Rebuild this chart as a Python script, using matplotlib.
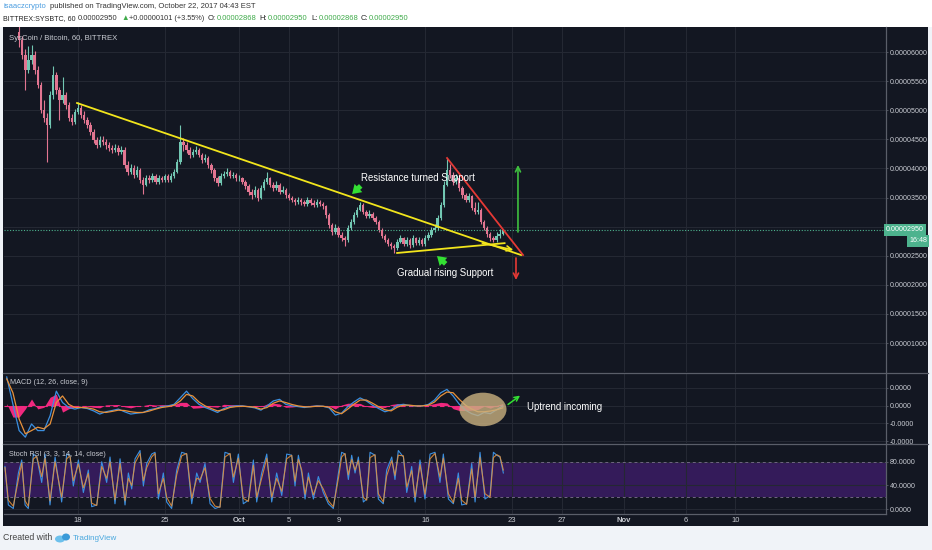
import numpy as np
import matplotlib
matplotlib.use('Agg')
import matplotlib.pyplot as plt
from matplotlib.patches import Rectangle, Ellipse
from matplotlib.lines import Line2D

W, H = 932, 550

# time axis is days since 2017-09-01 00:00, prices are in satoshi (1e-8 BTC)
# 6 hour candles, first one opens Sep 13 06:00
candle_start = 12.25
candle_step = 0.25
first_open = 6350
closes = [6200, 5950, 5690, 5860, 5950, 5690, 5430, 5000, 4870, 4750,
          5260, 5600, 5350, 5175, 5260, 5090, 4870, 4800, 4970, 5040,
          4920, 4830, 4750, 4630, 4490, 4400, 4490, 4450, 4400, 4350,
          4320, 4350, 4280, 4320, 4060, 3940, 4010, 3890, 3970, 3800,
          3720, 3830, 3800, 3870, 3770, 3830, 3800, 3870, 3800, 3870,
          3940, 4110, 4450, 4400, 4320, 4230, 4280, 4320, 4230, 4150,
          4180, 4060, 3970, 3830, 3750, 3870, 3900, 3940, 3870, 3890,
          3830, 3830, 3770, 3700, 3600, 3540, 3630, 3490, 3660, 3770,
          3830, 3720, 3660, 3720, 3600, 3630, 3540, 3490, 3460, 3420,
          3460, 3420, 3390, 3460, 3410, 3370, 3420, 3390, 3350, 3200,
          3030, 2910, 2980, 2860, 2800, 2770, 2980, 3080, 3200, 3290,
          3370, 3250, 3180, 3220, 3150, 3080, 2940, 2840, 2770, 2700,
          2670, 2630, 2740, 2800, 2700, 2770, 2680, 2800, 2720, 2770,
          2700, 2800, 2860, 2940, 2980, 3150, 3370, 3720, 3970, 3890,
          3770, 3830, 3660, 3540, 3460, 3520, 3320, 3250, 3290, 3080,
          2980, 2870, 2800, 2770, 2840, 2870, 2950]
highs = [6600, 6280, 6050, 6100, 6120, 6010, 5760, 5480, 5180, 4950,
         5330, 5760, 5650, 5400, 5570, 5310, 5140, 4930, 5020, 5140,
         5090, 4980, 4880, 4790, 4680, 4540, 4560, 4560, 4500, 4460,
         4400, 4420, 4400, 4380, 4360, 4120, 4080, 4060, 4040, 4010,
         3850, 3880, 3880, 3920, 3900, 3880, 3870, 3910, 3900, 3920,
         3990, 4170, 4750, 4520, 4450, 4360, 4340, 4380, 4350, 4270,
         4250, 4220, 4100, 4000, 3870, 3920, 3960, 4010, 3970, 3940,
         3920, 3880, 3860, 3800, 3730, 3640, 3690, 3660, 3710, 3810,
         3940, 3860, 3760, 3780, 3750, 3690, 3660, 3580, 3530, 3500,
         3510, 3490, 3460, 3510, 3490, 3450, 3470, 3460, 3420, 3380,
         3230, 3070, 3040, 3010, 2900, 2840, 3030, 3130, 3250, 3340,
         3420, 3400, 3280, 3280, 3250, 3180, 3110, 2970, 2870, 2800,
         2740, 2700, 2790, 2860, 2830, 2830, 2800, 2850, 2830, 2830,
         2800, 2850, 2910, 2990, 3040, 3200, 3430, 3780, 4180, 4080,
         3930, 3900, 3860, 3700, 3580, 3580, 3550, 3420, 3430, 3320,
         3110, 3010, 2900, 2840, 2900, 2960, 2960]
lows = [6080, 5880, 5350, 5640, 5800, 5620, 5380, 4950, 4800, 4110,
        4700, 5200, 5280, 4830, 5120, 5020, 4820, 4740, 4760, 4930,
        4870, 4780, 4700, 4580, 4440, 4350, 4360, 4400, 4340, 4300,
        4270, 4280, 4230, 4240, 4010, 3880, 3900, 3840, 3850, 3750,
        3560, 3690, 3750, 3760, 3730, 3740, 3760, 3770, 3760, 3770,
        3840, 3920, 4080, 4300, 4260, 4180, 4190, 4240, 4190, 4100,
        4110, 4010, 3920, 3780, 3700, 3720, 3840, 3870, 3830, 3840,
        3790, 3790, 3730, 3650, 3550, 3480, 3510, 3440, 3470, 3630,
        3740, 3680, 3620, 3630, 3560, 3570, 3500, 3450, 3420, 3380,
        3390, 3380, 3350, 3360, 3370, 3330, 3340, 3350, 3310, 3150,
        2980, 2860, 2880, 2820, 2750, 2670, 2740, 2950, 3050, 3170,
        3260, 3210, 3140, 3150, 3110, 3040, 2900, 2800, 2730, 2660,
        2620, 2550, 2600, 2710, 2660, 2670, 2640, 2650, 2680, 2690,
        2660, 2670, 2770, 2830, 2900, 2950, 3120, 3340, 3690, 3840,
        3720, 3730, 3620, 3500, 3420, 3430, 3280, 3210, 3220, 3040,
        2940, 2830, 2760, 2730, 2740, 2810, 2860]
last_price = 2950

# MACD (12, 26, 9), every 12 hours from Sep 12 06:00, in units of 1e-6 BTC
macd_start = 11.25
macd_step = 0.5
macd_line = [1.61, 0.07, -1.41, -1.78, -1.04, -1.41, -1.41, -0.57, 0.81, 0.17,
             -0.11, -0.20, -0.11, -0.17, -0.30, -0.48, -0.35, -0.28, -0.20, -0.35,
             -0.48, -0.43, -0.39, -0.24, -0.17, -0.06, -0.02, 0.07, 0.44, 0.81,
             0.39, 0.07, -0.11, -0.24, -0.39, -0.17, -0.06, -0.02, -0.02, -0.07,
             -0.13, -0.26, -0.02, 0.26, 0.35, 0.07, -0.02, -0.06, -0.11, -0.06,
             -0.02, -0.04, -0.13, -0.54, -0.43, -0.07, 0.20, 0.43, 0.26, 0.02,
             -0.17, -0.35, -0.24, 0.02, 0.07, 0.00, -0.02, -0.02, 0.06, 0.31,
             0.72, 0.91, 0.54, 0.07, -0.26, -0.46, -0.57, -0.39, -0.46, -0.24,
             -0.02]
signal_line = [1.50, 0.72, -0.76, -1.59, -1.41, -1.22, -1.31, -1.04, 0.17, 0.54,
               0.07, -0.11, -0.11, -0.13, -0.20, -0.35, -0.39, -0.33, -0.26, -0.28,
               -0.35, -0.39, -0.39, -0.31, -0.20, -0.11, -0.06, 0.02, 0.26, 0.63,
               0.54, 0.20, -0.02, -0.17, -0.30, -0.24, -0.11, -0.06, -0.04, -0.06,
               -0.09, -0.20, -0.11, 0.13, 0.26, 0.17, 0.06, -0.02, -0.07, -0.07,
               -0.04, -0.04, -0.09, -0.35, -0.46, -0.20, 0.07, 0.31, 0.31, 0.13,
               -0.07, -0.24, -0.30, -0.09, 0.02, 0.02, -0.02, -0.02, 0.02, 0.20,
               0.54, 0.76, 0.72, 0.35, 0.02, -0.20, -0.35, -0.35, -0.31, -0.24,
               -0.13]

# Stoch RSI turning points (day, %K, %D)
stoch_days = [11.11, 11.38, 11.78, 12.19, 12.46, 12.73, 12.99, 13.40, 13.67, 14.07,
              14.34, 14.74, 15.15, 15.68, 16.09, 16.35, 16.62, 17.03, 17.43, 17.83,
              18.10, 18.51, 18.91, 19.31, 19.58, 19.98, 20.39, 20.79, 21.06, 21.33,
              21.60, 22.00, 22.27, 22.54, 22.94, 23.21, 23.48, 23.88, 24.15, 24.55,
              24.96, 25.36, 25.76, 26.17, 26.57, 26.84, 27.24, 27.65, 28.05, 28.45,
              28.85, 29.26, 29.53, 29.93, 30.33, 30.74, 31.14, 31.41, 31.81, 32.22,
              32.62, 33.02, 33.43, 33.83, 34.23, 34.50, 34.77, 35.04, 35.31, 35.58,
              35.98, 36.38, 36.78, 37.19, 37.59, 38.00, 38.26, 38.53, 38.80, 39.07,
              39.34, 39.61, 40.01, 40.28, 40.55, 40.95, 41.22, 41.62, 41.89, 42.30,
              42.56, 42.83, 43.24, 43.51, 43.91, 44.18, 44.58, 44.98, 45.39, 45.79,
              46.19, 46.46, 46.87, 47.27, 47.67, 47.94, 48.34, 48.75, 49.02, 49.42,
              49.82, 50.23, 50.50, 50.77, 51.03, 51.30]
stoch_k = [72, 7, 1, 61, 83, 7, 1, 93, 88, 45,
           93, 7, 88, 12, 93, 91, 39, 83, 28, 66,
           4, 7, 80, 45, 88, 9, 85, 7, 61, 34,
           85, 99, 39, 77, 93, 96, 17, 61, 12, 1,
           66, 96, 93, 9, 61, 45, 77, 9, 1, 4,
           96, 93, 45, 93, 9, 15, 83, 12, 61, 93,
           12, 61, 23, 93, 91, 39, 91, 61, 17, 61,
           17, 55, 28, 9, 1, 61, 96, 93, 50, 91,
           61, 88, 12, 17, 96, 91, 17, 9, 66, 88,
           50, 99, 88, 28, 72, 12, 83, 17, 93, 96,
           45, 93, 17, 9, 61, 7, 9, 77, 12, 96,
           17, 23, 96, 91, 88, 61]
stoch_d = [70, 15, 5, 50, 78, 14, 5, 85, 89, 55,
           86, 14, 80, 20, 85, 90, 48, 76, 36, 60,
           10, 6, 72, 52, 80, 16, 77, 14, 52, 40,
           78, 94, 48, 70, 88, 94, 26, 52, 20, 5,
           58, 90, 94, 18, 52, 50, 70, 18, 5, 3,
           88, 94, 54, 86, 18, 13, 74, 20, 52, 86,
           20, 52, 30, 85, 91, 47, 84, 66, 25, 54,
           24, 48, 34, 14, 4, 52, 88, 94, 58, 84,
           66, 82, 20, 15, 87, 92, 26, 12, 56, 82,
           57, 91, 90, 37, 65, 20, 75, 25, 85, 94,
           54, 86, 26, 11, 52, 15, 8, 68, 20, 87,
           26, 20, 87, 92, 89, 66]

# date ticks
tick_days = [17, 24, 30, 34, 38, 45, 52, 56, 61, 66, 70]
tick_labels = ['18', '25', 'Oct', '5', '9', '16', '23', '27', 'Nov', '6', '10']
price_ticks = list(range(1000, 6001, 500))

# drawings on the chart, (day, price)
resistance = [(16.92, 5124), (52.73, 2512)]
support = [(42.73, 2547), (51.40, 2716)]
support_arrow = [(49.60, 2716), (52.10, 2600)]
red_line = [(46.76, 4179), (52.89, 2512)]
up_arrow = [(52.48, 2908), (52.48, 4059)]
down_arrow = [(52.32, 2461), (52.32, 2083)]

# ---------------------------------------------------------------
plt.rcParams['font.family'] = ['Liberation Sans', 'DejaVu Sans']

BG = '#131722'
GRID = '#242833'
SEP = '#5a5e69'
TXT = '#c8cbd2'
UP = '#72c7b3'
DOWN = '#e27591'
AXIS_FS = 5.1


def fx(x):
    return x / W


def fy(y):
    return 1 - y / H


fig = plt.figure(figsize=(W / 100, H / 100), dpi=100)
fig.set_facecolor('#f0f3f8')
fig.add_artist(Rectangle((0, fy(27)), 1, 27 / H, transform=fig.transFigure,
                         fc='white', ec='none', zorder=-3))
fig.add_artist(Rectangle((fx(3), fy(526)), (928 - 3) / W, (526 - 27) / H,
                         transform=fig.transFigure, fc=BG, ec='none', zorder=-2))

x_lo, x_hi = 11.03, 82.16
ax_p = fig.add_axes([fx(4), fy(372), 882 / W, 345 / H])
ax_m = fig.add_axes([fx(4), fy(443), 882 / W, 70 / H])
ax_s = fig.add_axes([fx(4), fy(514), 882 / W, 70 / H])

for ax in (ax_p, ax_m, ax_s):
    ax.set_facecolor(BG)
    ax.set_xlim(x_lo, x_hi)
    for side in ('left', 'top', 'bottom'):
        ax.spines[side].set_visible(False)
    ax.spines['right'].set_color(SEP)
    ax.spines['right'].set_linewidth(0.9)
    ax.yaxis.tick_right()
    ax.tick_params(axis='y', direction='out', length=1.5, width=0.6, color=SEP,
                   labelsize=AXIS_FS, labelcolor=TXT, pad=1.2)
    ax.set_xticks(tick_days)
    ax.grid(True, color=GRID, lw=0.8)
    ax.set_axisbelow(True)

for ax in (ax_p, ax_m):
    ax.tick_params(axis='x', length=0, labelbottom=False)

# ---- price pane
ax_p.set_ylim(502, 6430)
ax_p.set_yticks(price_ticks)
ax_p.set_yticklabels(['' if v == 3000 else f'{v * 1e-8:.8f}' for v in price_ticks])

c = np.array(closes, dtype=float)
o = np.array([first_open] + closes[:-1], dtype=float)
t = candle_start + candle_step * np.arange(len(c))
col = np.where(c >= o, UP, DOWN)
ax_p.vlines(t, lows, highs, colors=col, lw=0.8, zorder=2)
ax_p.bar(t, np.maximum(np.abs(c - o), 8), bottom=np.minimum(o, c), width=0.19,
         color=col, lw=0, zorder=3)

ax_p.axhline(last_price, color='#4db38e', ls=(0, (1, 1.5)), lw=0.8, zorder=2)

(x0, y0), (x1, y1) = resistance
ax_p.plot([x0, x1], [y0, y1], color='#f2e51c', lw=1.3, zorder=4)
(x0, y0), (x1, y1) = support
ax_p.plot([x0, x1], [y0, y1], color='#f2e51c', lw=1.3, zorder=4)
ax_p.annotate('', xy=support_arrow[1], xytext=support_arrow[0],
              arrowprops=dict(arrowstyle='->', color='#f2e51c', lw=1.2,
                              mutation_scale=9, shrinkA=0, shrinkB=0), zorder=4)
(x0, y0), (x1, y1) = red_line
ax_p.plot([x0, x1], [y0, y1], color='#e53935', lw=1.3, zorder=4)
ax_p.annotate('', xy=up_arrow[1], xytext=up_arrow[0],
              arrowprops=dict(arrowstyle='->', color='#3fbf3f', lw=1.2,
                              mutation_scale=9, shrinkA=0, shrinkB=0), zorder=4)
ax_p.annotate('', xy=down_arrow[1], xytext=down_arrow[0],
              arrowprops=dict(arrowstyle='->', color='#e53935', lw=1.2,
                              mutation_scale=9, shrinkA=0, shrinkB=0), zorder=4)

green_style = 'simple,head_length=0.7,head_width=0.9,tail_width=0.4'
ax_p.annotate('', xy=(39.10, 3560), xytext=(39.80, 3700),
              arrowprops=dict(arrowstyle=green_style, color='#33e033', lw=0,
                              mutation_scale=9, shrinkA=0, shrinkB=0), zorder=5)
ax_p.annotate('', xy=(45.95, 2495), xytext=(46.65, 2360),
              arrowprops=dict(arrowstyle=green_style, color='#33e033', lw=0,
                              mutation_scale=9, shrinkA=0, shrinkB=0), zorder=5)
ax_p.text(39.82, 3835, 'Resistance turned Support', color='white', fontsize=6.9,
          va='center', ha='left', zorder=6)
ax_p.text(42.73, 2203, 'Gradual rising Support', color='white', fontsize=6.9,
          va='center', ha='left', zorder=6)

ytr = ax_p.get_yaxis_transform()
ax_p.text(1.0, last_price, '0.00002950', transform=ytr, ha='left', va='center',
          fontsize=AXIS_FS, color='white', clip_on=False, zorder=10,
          bbox=dict(boxstyle='square,pad=0.35', fc='#4db38e', ec='none'))
ax_p.annotate('16:48', xy=(1.0, last_price), xycoords=ytr, xytext=(32, -11),
              textcoords='offset pixels', ha='center', va='center', fontsize=AXIS_FS,
              color='white', annotation_clip=False, zorder=10,
              bbox=dict(boxstyle='square,pad=0.35', fc='#4db38e', ec='none'))

# ---- MACD pane
ax_m.set_ylim(-2.11, 1.833)
macd_ticks = [1, 0, -1, -2]
ax_m.set_yticks(macd_ticks)
ax_m.set_yticklabels([f'{v * 1e-6:.4f}' for v in macd_ticks])
tm = macd_start + macd_step * np.arange(len(macd_line))
hist = np.array(macd_line) - np.array(signal_line)
ax_m.fill_between(tm, hist, 0, color='#f0287f', lw=0, zorder=2)
ax_m.axhline(0, xmin=0, xmax=(tm[-1] - x_lo) / (x_hi - x_lo), color='#f0287f',
             lw=0.8, ls=(0, (4, 3)), zorder=2)
ax_m.plot(tm, macd_line, color='#3b8fe0', lw=0.9, zorder=3)
ax_m.plot(tm, signal_line, color='#e8913a', lw=0.9, zorder=3)
ax_m.add_patch(Ellipse((49.66, -0.22), 3.79, 1.89, fc='#c9b07f', ec='none',
                       alpha=0.8, zorder=5))
ax_m.annotate('', xy=(52.65, 0.56), xytext=(51.68, 0.06),
              arrowprops=dict(arrowstyle='->', color='#33e033', lw=1.1,
                              mutation_scale=8, shrinkA=0, shrinkB=0), zorder=6)
ax_m.text(53.21, -0.11, 'Uptrend incoming', color='white', fontsize=6.9,
          va='center', ha='left', zorder=6)

# ---- Stoch RSI pane
ax_s.set_ylim(-8.3, 110)
stoch_ticks = [80, 40, 0]
ax_s.set_yticks(stoch_ticks)
ax_s.set_yticklabels([f'{v:.4f}' for v in stoch_ticks])
ax_s.axhspan(20, 80, color='#341b5a', lw=0, zorder=0.3)
for lvl in (80, 20):
    ax_s.axhline(lvl, color='#6f6581', ls=(0, (3, 3)), lw=0.7, zorder=1)
ax_s.plot(stoch_days, stoch_k, color='#3b8fe0', lw=0.8, zorder=3)
ax_s.plot(stoch_days, stoch_d, color='#e8913a', lw=0.8, alpha=0.85, zorder=3)
ax_s.spines['bottom'].set_visible(True)
ax_s.spines['bottom'].set_color(SEP)
ax_s.spines['bottom'].set_linewidth(0.9)
ax_s.set_xticklabels(tick_labels)
ax_s.tick_params(axis='x', length=0, labelsize=5.5, labelcolor=TXT, pad=2.5)
for lab in ax_s.get_xticklabels():
    if lab.get_text() in ('Oct', 'Nov'):
        lab.set_fontweight('bold')

# pane separators
for yy in (372.5, 443.5):
    fig.add_artist(Line2D([fx(3), fx(928)], [fy(yy), fy(yy)], transform=fig.transFigure,
                          color=SEP, lw=0.9))

# titles inside panes
fig.text(fx(9), fy(38), 'SysCoin / Bitcoin, 60, BITTREX', color=TXT, fontsize=5.6,
         va='center', ha='left')
fig.text(fx(10), fy(383), 'MACD (12, 26, close, 9)', color=TXT, fontsize=5.2,
         va='center', ha='left')
fig.text(fx(9), fy(455), 'Stoch RSI (3, 3, 14, 14, close)', color=TXT, fontsize=5.2,
         va='center', ha='left')

# header, segments placed at the x positions seen in the snapshot
DARK = '#333333'
GREEN = '#3faa4a'
HFS = 5.5
fig.text(fx(3), fy(7), 'isaaczcrypto', color='#4a9de0', fontsize=HFS, va='center')
fig.text(fx(50), fy(7), 'published on TradingView.com, October 22, 2017 04:43 EST',
         color=DARK, fontsize=HFS, va='center')
header2 = [(3, 'BITTREX:SYSBTC, 60', '#222222', 5.1),
           (78, '0.00002950', DARK, HFS),
           (121, '\u25b2', GREEN, HFS),
           (129, '+0.00000101 (+3.55%)', DARK, 5.3),
           (208, 'O:', '#222222', HFS),
           (217, '0.00002868', GREEN, HFS),
           (259, 'H:', '#222222', HFS),
           (268, '0.00002950', GREEN, HFS),
           (311, 'L:', '#222222', HFS),
           (319, '0.00002868', GREEN, HFS),
           (361, 'C:', '#222222', HFS),
           (369, '0.00002950', GREEN, HFS)]
for xpos, s, colr, size in header2:
    fig.text(fx(xpos), fy(19), s, color=colr, fontsize=size, va='center')

# footer
fig.text(fx(3), fy(538), 'Created with', color='#444444', fontsize=6.3, va='center')
fig.add_artist(Ellipse((fx(60), fy(539)), 10 / W, 7 / H, transform=fig.transFigure,
                       fc='#6cc0ec', ec='none'))
fig.add_artist(Ellipse((fx(66), fy(537)), 8 / W, 7 / H, transform=fig.transFigure,
                       fc='#3a9ad8', ec='none'))
fig.text(fx(73), fy(538), 'TradingView', color='#4aa8de', fontsize=5.8, va='center')

fig.savefig('out.png', dpi=100, facecolor=fig.get_facecolor())
